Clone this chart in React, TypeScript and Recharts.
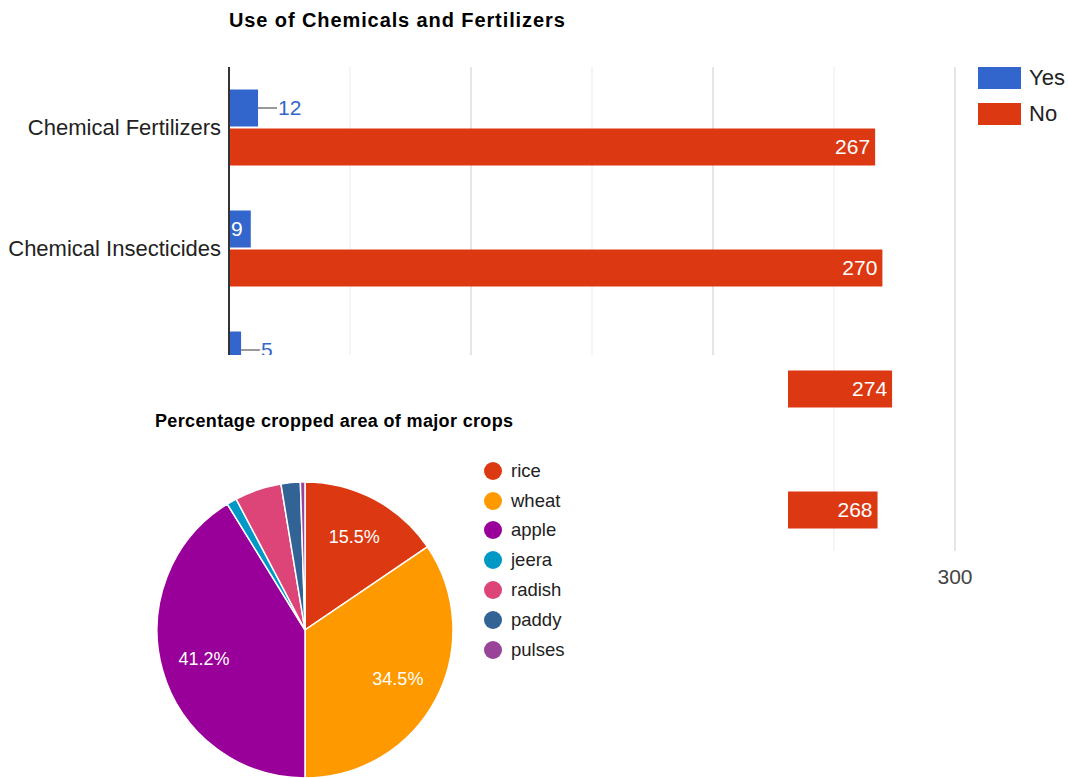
import React from "react"
import { Bar, BarChart, CartesianGrid, Cell, LabelList, Pie, PieChart, XAxis, YAxis } from "recharts"

const categories = ["Chemical Fertilizers", "Chemical Insecticides", "Chemical Pesticides", "Weedicides"]
const yesValues = [12, 9, 5, 11]
const noValues = [267, 270, 274, 268]
const xTicks = [0, 100, 200, 300]
const minorTicks = [50, 150, 250]
const xMax = 300

const crops = ["rice", "wheat", "apple", "jeera", "radish", "paddy", "pulses"]
const cropShares = [15.5, 34.5, 41.2, 1.1, 5.1, 2.1, 0.5]
const cropColors = ["#dc3912", "#ff9900", "#990099", "#0099c6", "#dd4477", "#316395", "#994499"]

const FONT = "Arial, 'Liberation Sans', sans-serif"
const YES = "#3366cc"
const NO = "#dc3912"

const barData = categories.map((name, i) => ({ name, yes: yesValues[i], no: noValues[i] }))
const pieData = crops.map((name, i) => ({ name, value: cropShares[i] }))

// minor gridlines at the half steps, placed with the x axis scale
function minorGrid(args: any) {
  const scale = args?.xAxis?.scale
  return minorTicks.map((t) =>
    typeof scale === "function" ? scale(t) : args.offset.left + (args.offset.width * t) / xMax
  )
}

// google-style label: inside the bar when it fits, otherwise outside with a short leader line
function YesLabel(props: any) {
  const { x, y, width, height, value } = props
  const textW = String(value).length * 11.6
  const cy = y + height / 2
  if (width > textW + 8) {
    return (
      <text x={x + 2} y={cy} dy="0.35em" fill="#fff" fontSize={21} fontFamily={FONT}>
        {value}
      </text>
    )
  }
  const end = x + width
  return (
    <g>
      <line x1={end} y1={cy} x2={end + 19} y2={cy} stroke="#999" strokeWidth={2} />
      <text x={end + 20} y={cy} dy="0.35em" fill={YES} fontSize={21} fontFamily={FONT}>
        {value}
      </text>
    </g>
  )
}

function PieLabel(props: any) {
  const { cx, cy, midAngle, outerRadius, percent } = props
  if (percent < 0.1) return null
  const r = outerRadius * 0.71
  const rad = Math.PI / 180
  const x = cx + r * Math.cos(-midAngle * rad)
  const y = cy + r * Math.sin(-midAngle * rad)
  return (
    <text x={x} y={y} dy="0.35em" textAnchor="middle" fill="#fff" fontSize={18} fontFamily={FONT}>
      {(percent * 100).toFixed(1)}%
    </text>
  )
}

export default function App() {
  return (
    <div style={{ position: "absolute", left: 0, top: 0, width: 1068, height: 778, background: "#fff", fontFamily: FONT, overflow: "hidden" }}>
      <div style={{ position: "absolute", left: 229, top: 9, fontSize: 20, letterSpacing: 0.9, fontWeight: "bold", color: "#000", whiteSpace: "nowrap" }}>
        Use of Chemicals and Fertilizers
      </div>

      <BarChart
        width={1068}
        height={778}
        data={barData}
        layout="vertical"
        margin={{ top: 67, right: 113, bottom: 197, left: 0 }}
        barCategoryGap="18.6%"
        barGap={2}
      >
        <CartesianGrid horizontal={false} stroke="#ebebeb" verticalCoordinatesGenerator={minorGrid} />
        <CartesianGrid horizontal={false} stroke="#cccccc" />
        <XAxis
          type="number"
          domain={[0, xMax]}
          ticks={xTicks}
          axisLine={false}
          tickLine={false}
          tickSize={0}
          tickMargin={18}
          height={30}
          tick={{ fontSize: 21, fill: "#444", fontFamily: FONT }}
        />
        <YAxis
          type="category"
          dataKey="name"
          width={229}
          axisLine={{ stroke: "#333", strokeWidth: 2 }}
          tickLine={false}
          tickSize={0}
          tickMargin={8}
          tick={{ fontSize: 22, fill: "#222", fontFamily: FONT }}
        />
        <Bar dataKey="yes" name="Yes" fill={YES} isAnimationActive={false}>
          <LabelList dataKey="yes" content={YesLabel} />
        </Bar>
        <Bar dataKey="no" name="No" fill={NO} isAnimationActive={false}>
          <LabelList dataKey="no" position="insideRight" fill="#ffffff" fontSize={21} fontFamily={FONT} />
        </Bar>
      </BarChart>

      {/* bar legend */}
      <div style={{ position: "absolute", left: 978, top: 67 }}>
        {[
          { label: "Yes", color: YES },
          { label: "No", color: NO },
        ].map((item) => (
          <div key={item.label} style={{ display: "flex", alignItems: "center", height: 22, marginBottom: 14 }}>
            <div style={{ width: 43, height: 22, background: item.color }} />
            <span style={{ marginLeft: 8, fontSize: 22, color: "#222" }}>{item.label}</span>
          </div>
        ))}
      </div>

      {/* pie chart panel laid over the lower part */}
      <div style={{ position: "absolute", left: 0, top: 355, width: 788, height: 423, background: "#fff" }}>
        <div style={{ position: "absolute", left: 155, top: 56, fontSize: 18, letterSpacing: 0.35, fontWeight: "bold", color: "#000", whiteSpace: "nowrap" }}>
          Percentage cropped area of major crops
        </div>
        <PieChart width={788} height={423} margin={{ top: 0, right: 0, bottom: 0, left: 0 }}>
          <Pie
            data={pieData}
            dataKey="value"
            nameKey="name"
            cx={305}
            cy={275}
            outerRadius={148}
            startAngle={90}
            endAngle={-270}
            stroke="#fff"
            strokeWidth={1.5}
            label={PieLabel}
            labelLine={false}
            isAnimationActive={false}
          >
            {pieData.map((d, i) => (
              <Cell key={d.name} fill={cropColors[i]} />
            ))}
          </Pie>
        </PieChart>
        <div style={{ position: "absolute", left: 484, top: 101 }}>
          {crops.map((c, i) => (
            <div key={c} style={{ display: "flex", alignItems: "center", height: 29.8 }}>
              <div style={{ width: 18, height: 18, borderRadius: 9, background: cropColors[i] }} />
              <span style={{ marginLeft: 9, fontSize: 18.5, color: "#222" }}>{c}</span>
            </div>
          ))}
        </div>
      </div>
    </div>
  )
}
